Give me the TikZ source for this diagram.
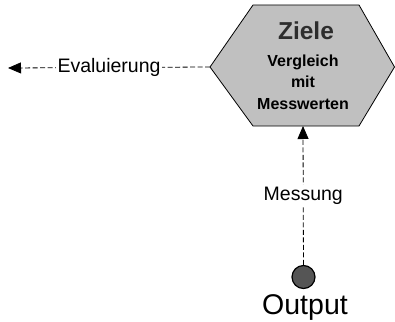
\documentclass[tikz,border=0pt]{standalone}
\usepackage{fontspec}
\setmainfont{Liberation Sans}
\usetikzlibrary{arrows.meta}
\definecolor{hexgray}{RGB}{192,192,192}
\definecolor{dotgray}{RGB}{85,85,85}
\definecolor{titlegray}{RGB}{45,45,45}
\tikzset{
  link/.style={line width=0.8pt, dash pattern=on 5pt off 2.5pt},
  tip/.style={-{Triangle[length=13pt,width=11pt]}},
  linklabel/.style={fill=white, inner sep=2pt, font=\fontsize{19.5}{21}\selectfont}
}
\begin{document}
\begin{tikzpicture}[x=1pt,y=-1pt]
    \useasboundingbox (0,0) rectangle (395,321) ;

    % hexagon with the goals
    \draw [line width=0.8pt, fill=hexgray] (210,67) -- (253,5) -- (359,5)
      -- (394.5,67) -- (359,126) -- (253,126) -- cycle ;
    \coordinate (hexW) at (210,67) ;
    \coordinate (hexS) at (303,126) ;
    \node (goaltitle) [anchor=base, text=titlegray,
      font=\bfseries\fontsize{24.5}{26}\selectfont] at (306,40) {Ziele} ;
    \node (goaltext) [anchor=base, align=center,
      font=\bfseries\fontsize{16}{21.5}\selectfont] at (303,109)
      {Vergleich\\mit\\Messwerten} ;

    % output
    \node (outdot) [circle, draw, line width=1.2pt, fill=dotgray,
      minimum size=23pt, inner sep=0pt] at (303.5,277) {} ;
    \node (outtext) [anchor=base, font=\fontsize{28.5}{30}\selectfont]
      at (305,314) {Output} ;

    % connectors
    \coordinate (evalend) at (8,68) ;
    \draw [link, tip] (hexW) -- node [linklabel] (evaltext) {Evaluierung}
      (evalend) ;
    \draw [link, tip] (outdot) -- node [linklabel] (meastext) {Messung}
      (hexS) ;

  \end{tikzpicture}
\end{document}
